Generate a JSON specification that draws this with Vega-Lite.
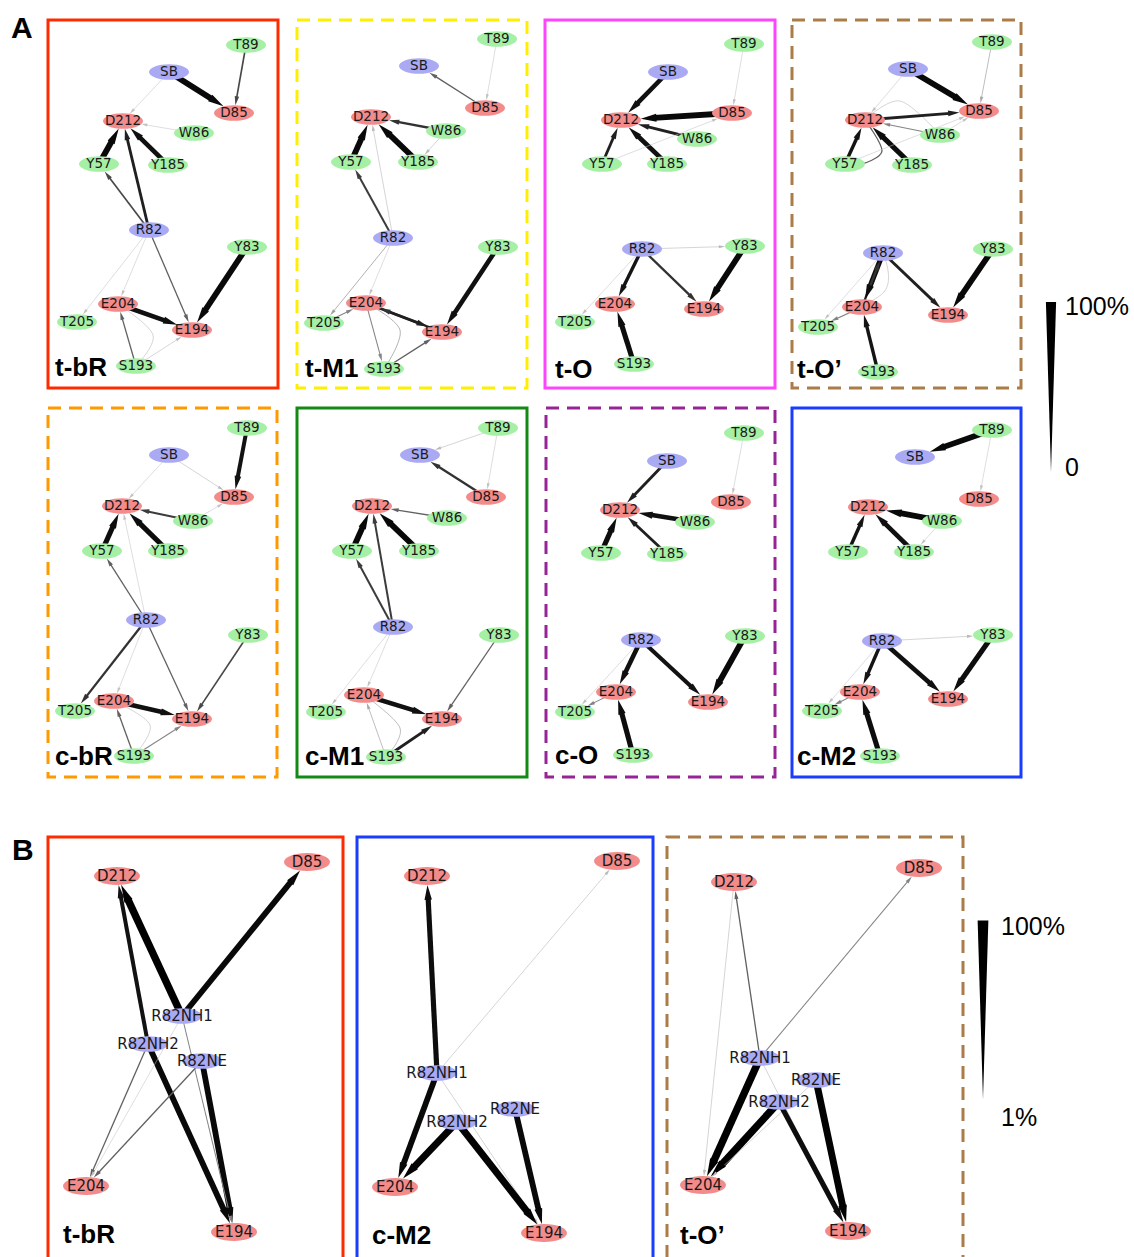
{
  "$schema": "https://vega.github.io/schema/vega-lite/v6.json",
  "width": 1134,
  "height": 1257,
  "autosize": {"type": "fit", "contains": "padding"},
  "padding": 0,
  "background": "white",
  "config": {"view": {"stroke": null}},
  "datasets": {
    "panels": [
      {"key": "A1", "label": "t-bR", "x": 48, "y": 20, "x2": 278, "y2": 388, "lx": 55, "ly": 376},
      {"key": "A2", "label": "t-M1", "x": 297, "y": 20, "x2": 527, "y2": 388, "lx": 305, "ly": 377},
      {"key": "A3", "label": "t-O", "x": 545, "y": 20, "x2": 775, "y2": 388, "lx": 555, "ly": 378},
      {"key": "A4", "label": "t-O’", "x": 792, "y": 20, "x2": 1021, "y2": 388, "lx": 797, "ly": 378},
      {"key": "A5", "label": "c-bR", "x": 48, "y": 408, "x2": 277, "y2": 777, "lx": 55, "ly": 765},
      {"key": "A6", "label": "c-M1", "x": 297, "y": 408, "x2": 527, "y2": 777, "lx": 305, "ly": 765},
      {"key": "A7", "label": "c-O", "x": 546, "y": 408, "x2": 775, "y2": 777, "lx": 555, "ly": 764},
      {"key": "A8", "label": "c-M2", "x": 792, "y": 408, "x2": 1021, "y2": 777, "lx": 797, "ly": 765},
      {"key": "B1", "label": "t-bR", "x": 48, "y": 837, "x2": 343, "y2": 1266, "lx": 63, "ly": 1243},
      {"key": "B2", "label": "c-M2", "x": 357, "y": 837, "x2": 653, "y2": 1266, "lx": 372, "ly": 1244},
      {"key": "B3", "label": "t-O’", "x": 667, "y": 837, "x2": 963, "y2": 1266, "lx": 680, "ly": 1244}
    ],
    "residues": [
      {"n": "SB", "kind": "base"}, {"n": "R82", "kind": "base"},
      {"n": "R82NH1", "kind": "base"}, {"n": "R82NH2", "kind": "base"}, {"n": "R82NE", "kind": "base"},
      {"n": "D85", "kind": "acid"}, {"n": "D212", "kind": "acid"}, {"n": "E204", "kind": "acid"}, {"n": "E194", "kind": "acid"},
      {"n": "T89", "kind": "polar"}, {"n": "W86", "kind": "polar"}, {"n": "Y57", "kind": "polar"}, {"n": "Y185", "kind": "polar"},
      {"n": "Y83", "kind": "polar"}, {"n": "T205", "kind": "polar"}, {"n": "S193", "kind": "polar"}
    ],
    "nodes": [
      {"id": "A1:T89", "x": 246, "y": 45}, {"id": "A1:SB", "x": 169, "y": 72}, {"id": "A1:D85", "x": 234, "y": 113},
      {"id": "A1:D212", "x": 123, "y": 121}, {"id": "A1:W86", "x": 194, "y": 133}, {"id": "A1:Y57", "x": 99, "y": 164},
      {"id": "A1:Y185", "x": 168, "y": 165}, {"id": "A1:R82", "x": 149, "y": 230}, {"id": "A1:Y83", "x": 247, "y": 247},
      {"id": "A1:E204", "x": 118, "y": 304}, {"id": "A1:T205", "x": 77, "y": 322}, {"id": "A1:E194", "x": 192, "y": 330},
      {"id": "A1:S193", "x": 136, "y": 366},

      {"id": "A2:T89", "x": 497, "y": 39}, {"id": "A2:SB", "x": 419, "y": 66}, {"id": "A2:D85", "x": 485, "y": 108},
      {"id": "A2:D212", "x": 371, "y": 117}, {"id": "A2:W86", "x": 446, "y": 131}, {"id": "A2:Y57", "x": 351, "y": 162},
      {"id": "A2:Y185", "x": 418, "y": 162}, {"id": "A2:R82", "x": 393, "y": 238}, {"id": "A2:Y83", "x": 498, "y": 247},
      {"id": "A2:E204", "x": 366, "y": 303}, {"id": "A2:T205", "x": 324, "y": 323}, {"id": "A2:E194", "x": 442, "y": 332},
      {"id": "A2:S193", "x": 384, "y": 369},

      {"id": "A3:T89", "x": 744, "y": 44}, {"id": "A3:SB", "x": 668, "y": 72}, {"id": "A3:D85", "x": 732, "y": 113},
      {"id": "A3:D212", "x": 621, "y": 120}, {"id": "A3:W86", "x": 697, "y": 139}, {"id": "A3:Y57", "x": 602, "y": 164},
      {"id": "A3:Y185", "x": 667, "y": 164}, {"id": "A3:R82", "x": 642, "y": 249}, {"id": "A3:Y83", "x": 745, "y": 246},
      {"id": "A3:E204", "x": 615, "y": 304}, {"id": "A3:T205", "x": 575, "y": 322}, {"id": "A3:E194", "x": 704, "y": 309},
      {"id": "A3:S193", "x": 634, "y": 364},

      {"id": "A4:T89", "x": 992, "y": 42}, {"id": "A4:SB", "x": 908, "y": 69}, {"id": "A4:D85", "x": 979, "y": 111},
      {"id": "A4:D212", "x": 865, "y": 120}, {"id": "A4:W86", "x": 940, "y": 135}, {"id": "A4:Y57", "x": 845, "y": 164},
      {"id": "A4:Y185", "x": 912, "y": 165}, {"id": "A4:R82", "x": 883, "y": 253}, {"id": "A4:Y83", "x": 993, "y": 249},
      {"id": "A4:E204", "x": 862, "y": 307}, {"id": "A4:T205", "x": 818, "y": 327}, {"id": "A4:E194", "x": 948, "y": 315},
      {"id": "A4:S193", "x": 878, "y": 372},

      {"id": "A5:T89", "x": 247, "y": 428}, {"id": "A5:SB", "x": 169, "y": 455}, {"id": "A5:D85", "x": 234, "y": 497},
      {"id": "A5:D212", "x": 122, "y": 506}, {"id": "A5:W86", "x": 193, "y": 521}, {"id": "A5:Y57", "x": 102, "y": 551},
      {"id": "A5:Y185", "x": 168, "y": 551}, {"id": "A5:R82", "x": 146, "y": 620}, {"id": "A5:Y83", "x": 248, "y": 635},
      {"id": "A5:E204", "x": 114, "y": 701}, {"id": "A5:T205", "x": 75, "y": 711}, {"id": "A5:E194", "x": 192, "y": 719},
      {"id": "A5:S193", "x": 134, "y": 756},

      {"id": "A6:T89", "x": 498, "y": 428}, {"id": "A6:SB", "x": 420, "y": 455}, {"id": "A6:D85", "x": 486, "y": 497},
      {"id": "A6:D212", "x": 372, "y": 506}, {"id": "A6:W86", "x": 447, "y": 518}, {"id": "A6:Y57", "x": 352, "y": 551},
      {"id": "A6:Y185", "x": 419, "y": 551}, {"id": "A6:R82", "x": 393, "y": 627}, {"id": "A6:Y83", "x": 499, "y": 635},
      {"id": "A6:E204", "x": 364, "y": 695}, {"id": "A6:T205", "x": 326, "y": 712}, {"id": "A6:E194", "x": 442, "y": 719},
      {"id": "A6:S193", "x": 386, "y": 757},

      {"id": "A7:T89", "x": 744, "y": 433}, {"id": "A7:SB", "x": 667, "y": 461}, {"id": "A7:D85", "x": 731, "y": 502},
      {"id": "A7:D212", "x": 620, "y": 510}, {"id": "A7:W86", "x": 695, "y": 522}, {"id": "A7:Y57", "x": 601, "y": 553},
      {"id": "A7:Y185", "x": 667, "y": 554}, {"id": "A7:R82", "x": 641, "y": 640}, {"id": "A7:Y83", "x": 745, "y": 636},
      {"id": "A7:E204", "x": 616, "y": 692}, {"id": "A7:T205", "x": 575, "y": 712}, {"id": "A7:E194", "x": 708, "y": 702},
      {"id": "A7:S193", "x": 633, "y": 755},

      {"id": "A8:T89", "x": 992, "y": 430}, {"id": "A8:SB", "x": 915, "y": 457}, {"id": "A8:D85", "x": 979, "y": 499},
      {"id": "A8:D212", "x": 868, "y": 507}, {"id": "A8:W86", "x": 942, "y": 521}, {"id": "A8:Y57", "x": 848, "y": 552},
      {"id": "A8:Y185", "x": 914, "y": 552}, {"id": "A8:R82", "x": 882, "y": 641}, {"id": "A8:Y83", "x": 993, "y": 635},
      {"id": "A8:E204", "x": 860, "y": 692}, {"id": "A8:T205", "x": 822, "y": 711}, {"id": "A8:E194", "x": 948, "y": 699},
      {"id": "A8:S193", "x": 880, "y": 756},

      {"id": "B1:D212", "x": 117, "y": 876}, {"id": "B1:D85", "x": 307, "y": 862}, {"id": "B1:R82NH1", "x": 182, "y": 1016},
      {"id": "B1:R82NH2", "x": 148, "y": 1044}, {"id": "B1:R82NE", "x": 202, "y": 1061}, {"id": "B1:E204", "x": 86, "y": 1186},
      {"id": "B1:E194", "x": 234, "y": 1232},

      {"id": "B2:D212", "x": 427, "y": 876}, {"id": "B2:D85", "x": 617, "y": 861}, {"id": "B2:R82NH1", "x": 437, "y": 1073},
      {"id": "B2:R82NH2", "x": 457, "y": 1122}, {"id": "B2:R82NE", "x": 515, "y": 1109}, {"id": "B2:E204", "x": 395, "y": 1187},
      {"id": "B2:E194", "x": 544, "y": 1233},

      {"id": "B3:D212", "x": 734, "y": 882}, {"id": "B3:D85", "x": 919, "y": 868}, {"id": "B3:R82NH1", "x": 760, "y": 1058},
      {"id": "B3:R82NE", "x": 816, "y": 1080}, {"id": "B3:R82NH2", "x": 779, "y": 1102}, {"id": "B3:E204", "x": 703, "y": 1185},
      {"id": "B3:E194", "x": 848, "y": 1231}
    ],
    "edges": [
      {"p": "A1", "s": "T89", "t": "D85", "w": 18}, {"p": "A1", "s": "SB", "t": "D85", "w": 77},
      {"p": "A1", "s": "SB", "t": "D212", "w": 2}, {"p": "A1", "s": "W86", "t": "D212", "w": 2},
      {"p": "A1", "s": "Y185", "t": "D212", "w": 60}, {"p": "A1", "s": "Y57", "t": "D212", "w": 77},
      {"p": "A1", "s": "R82", "t": "D212", "w": 35}, {"p": "A1", "s": "R82", "t": "Y57", "w": 18},
      {"p": "A1", "s": "R82", "t": "E194", "w": 13}, {"p": "A1", "s": "R82", "t": "E204", "w": 2},
      {"p": "A1", "s": "R82", "t": "T205", "w": 2}, {"p": "A1", "s": "Y83", "t": "E194", "w": 77},
      {"p": "A1", "s": "E204", "t": "E194", "w": 60}, {"p": "A1", "s": "S193", "t": "E204", "w": 13},
      {"p": "A1", "s": "S193", "t": "E194", "w": 3},

      {"p": "A2", "s": "T89", "t": "D85", "w": 2}, {"p": "A2", "s": "D85", "t": "SB", "w": 13},
      {"p": "A2", "s": "W86", "t": "D212", "w": 27}, {"p": "A2", "s": "W86", "t": "Y185", "w": 3},
      {"p": "A2", "s": "Y185", "t": "D212", "w": 77}, {"p": "A2", "s": "Y57", "t": "D212", "w": 77},
      {"p": "A2", "s": "R82", "t": "D212", "w": 3}, {"p": "A2", "s": "R82", "t": "Y57", "w": 23},
      {"p": "A2", "s": "R82", "t": "T205", "w": 6}, {"p": "A2", "s": "R82", "t": "E204", "w": 2},
      {"p": "A2", "s": "Y83", "t": "E194", "w": 60}, {"p": "A2", "s": "E194", "t": "E204", "w": 27},
      {"p": "A2", "s": "E204", "t": "E194", "w": 35}, {"p": "A2", "s": "T205", "t": "E204", "w": 9},
      {"p": "A2", "s": "E204", "t": "S193", "w": 9}, {"p": "A2", "s": "S193", "t": "E194", "w": 13},

      {"p": "A3", "s": "T89", "t": "D85", "w": 2}, {"p": "A3", "s": "SB", "t": "D212", "w": 60},
      {"p": "A3", "s": "D85", "t": "D212", "w": 77}, {"p": "A3", "s": "W86", "t": "D212", "w": 35},
      {"p": "A3", "s": "Y185", "t": "D212", "w": 60}, {"p": "A3", "s": "Y57", "t": "D212", "w": 35},
      {"p": "A3", "s": "Y57", "t": "D85", "w": 2}, {"p": "A3", "s": "R82", "t": "Y83", "w": 3},
      {"p": "A3", "s": "R82", "t": "E204", "w": 43}, {"p": "A3", "s": "R82", "t": "E194", "w": 27},
      {"p": "A3", "s": "R82", "t": "T205", "w": 2}, {"p": "A3", "s": "Y83", "t": "E194", "w": 77},
      {"p": "A3", "s": "S193", "t": "E204", "w": 68},

      {"p": "A4", "s": "T89", "t": "D85", "w": 5}, {"p": "A4", "s": "SB", "t": "D85", "w": 77},
      {"p": "A4", "s": "SB", "t": "D212", "w": 2}, {"p": "A4", "s": "D212", "t": "D85", "w": 35},
      {"p": "A4", "s": "W86", "t": "D212", "w": 9}, {"p": "A4", "s": "Y185", "t": "D212", "w": 68},
      {"p": "A4", "s": "Y57", "t": "D212", "w": 43}, {"p": "A4", "s": "Y57", "t": "D85", "w": 2},
      {"p": "A4", "s": "W86", "t": "D85", "w": 2}, {"p": "A4", "s": "R82", "t": "E204", "w": 68},
      {"p": "A4", "s": "E204", "t": "R82", "w": 27}, {"p": "A4", "s": "R82", "t": "T205", "w": 2},
      {"p": "A4", "s": "E204", "t": "T205", "w": 9}, {"p": "A4", "s": "R82", "t": "E194", "w": 35},
      {"p": "A4", "s": "Y83", "t": "E194", "w": 77}, {"p": "A4", "s": "S193", "t": "E204", "w": 43},

      {"p": "A5", "s": "T89", "t": "D85", "w": 52}, {"p": "A5", "s": "SB", "t": "D85", "w": 3},
      {"p": "A5", "s": "SB", "t": "D212", "w": 2}, {"p": "A5", "s": "W86", "t": "D212", "w": 23},
      {"p": "A5", "s": "W86", "t": "D85", "w": 2}, {"p": "A5", "s": "Y185", "t": "D212", "w": 68},
      {"p": "A5", "s": "Y57", "t": "D212", "w": 68}, {"p": "A5", "s": "R82", "t": "D212", "w": 2},
      {"p": "A5", "s": "R82", "t": "Y57", "w": 13}, {"p": "A5", "s": "R82", "t": "T205", "w": 27},
      {"p": "A5", "s": "R82", "t": "E204", "w": 2}, {"p": "A5", "s": "R82", "t": "E194", "w": 13},
      {"p": "A5", "s": "Y83", "t": "E194", "w": 18}, {"p": "A5", "s": "E204", "t": "E194", "w": 60},
      {"p": "A5", "s": "S193", "t": "E204", "w": 13}, {"p": "A5", "s": "S193", "t": "E194", "w": 9},

      {"p": "A6", "s": "T89", "t": "SB", "w": 3}, {"p": "A6", "s": "T89", "t": "D85", "w": 2},
      {"p": "A6", "s": "D85", "t": "SB", "w": 27}, {"p": "A6", "s": "W86", "t": "D212", "w": 13},
      {"p": "A6", "s": "Y185", "t": "D212", "w": 77}, {"p": "A6", "s": "Y57", "t": "D212", "w": 77},
      {"p": "A6", "s": "R82", "t": "D212", "w": 23}, {"p": "A6", "s": "R82", "t": "Y57", "w": 23},
      {"p": "A6", "s": "R82", "t": "T205", "w": 2}, {"p": "A6", "s": "R82", "t": "E204", "w": 2},
      {"p": "A6", "s": "Y83", "t": "E194", "w": 13}, {"p": "A6", "s": "E204", "t": "E194", "w": 60},
      {"p": "A6", "s": "S193", "t": "E194", "w": 35}, {"p": "A6", "s": "S193", "t": "E204", "w": 5},

      {"p": "A7", "s": "T89", "t": "D85", "w": 2}, {"p": "A7", "s": "SB", "t": "D212", "w": 35},
      {"p": "A7", "s": "W86", "t": "D212", "w": 60}, {"p": "A7", "s": "Y185", "t": "D212", "w": 35},
      {"p": "A7", "s": "Y57", "t": "D212", "w": 68}, {"p": "A7", "s": "R82", "t": "E204", "w": 60},
      {"p": "A7", "s": "R82", "t": "E194", "w": 52}, {"p": "A7", "s": "R82", "t": "T205", "w": 2},
      {"p": "A7", "s": "E204", "t": "T205", "w": 9}, {"p": "A7", "s": "Y83", "t": "E194", "w": 77},
      {"p": "A7", "s": "S193", "t": "E204", "w": 68},

      {"p": "A8", "s": "T89", "t": "SB", "w": 77}, {"p": "A8", "s": "T89", "t": "D85", "w": 2},
      {"p": "A8", "s": "W86", "t": "D212", "w": 77}, {"p": "A8", "s": "W86", "t": "Y185", "w": 2},
      {"p": "A8", "s": "Y185", "t": "D212", "w": 60}, {"p": "A8", "s": "Y57", "t": "D212", "w": 43},
      {"p": "A8", "s": "R82", "t": "Y83", "w": 3}, {"p": "A8", "s": "R82", "t": "E204", "w": 43},
      {"p": "A8", "s": "R82", "t": "E194", "w": 60}, {"p": "A8", "s": "R82", "t": "T205", "w": 2},
      {"p": "A8", "s": "E204", "t": "T205", "w": 9}, {"p": "A8", "s": "Y83", "t": "E194", "w": 68},
      {"p": "A8", "s": "S193", "t": "E204", "w": 68},

      {"p": "B1", "s": "R82NH1", "t": "D212", "w": 100}, {"p": "B1", "s": "R82NH1", "t": "D85", "w": 77},
      {"p": "B1", "s": "R82NH2", "t": "D212", "w": 52}, {"p": "B1", "s": "R82NH2", "t": "E194", "w": 77},
      {"p": "B1", "s": "R82NE", "t": "E194", "w": 77}, {"p": "B1", "s": "R82NH1", "t": "E194", "w": 9},
      {"p": "B1", "s": "R82NH2", "t": "E204", "w": 13}, {"p": "B1", "s": "R82NH1", "t": "E204", "w": 2},
      {"p": "B1", "s": "R82NE", "t": "E204", "w": 13},

      {"p": "B2", "s": "R82NH1", "t": "D212", "w": 68}, {"p": "B2", "s": "R82NH1", "t": "D85", "w": 3},
      {"p": "B2", "s": "R82NH1", "t": "E204", "w": 77}, {"p": "B2", "s": "R82NH1", "t": "E194", "w": 3},
      {"p": "B2", "s": "R82NH2", "t": "E204", "w": 93}, {"p": "B2", "s": "R82NH2", "t": "E194", "w": 93},
      {"p": "B2", "s": "R82NE", "t": "E194", "w": 77},

      {"p": "B3", "s": "R82NH1", "t": "D212", "w": 13}, {"p": "B3", "s": "R82NH1", "t": "D85", "w": 9},
      {"p": "B3", "s": "D212", "t": "E204", "w": 3}, {"p": "B3", "s": "R82NH1", "t": "E204", "w": 100},
      {"p": "B3", "s": "R82NH2", "t": "E204", "w": 100}, {"p": "B3", "s": "R82NE", "t": "E204", "w": 3},
      {"p": "B3", "s": "R82NH1", "t": "E194", "w": 3}, {"p": "B3", "s": "R82NH2", "t": "E194", "w": 68},
      {"p": "B3", "s": "R82NE", "t": "E194", "w": 93}
    ],
    "curves": [
      {"c": "A1-E204-S193", "o": 0, "x": 118, "y": 304, "w": 3}, {"c": "A1-E204-S193", "o": 1, "x": 153, "y": 335, "w": 3},
      {"c": "A1-E204-S193", "o": 2, "x": 136, "y": 366, "w": 3},
      {"c": "A2-S193-E204", "o": 0, "x": 384, "y": 369, "w": 6}, {"c": "A2-S193-E204", "o": 1, "x": 400, "y": 330, "w": 6},
      {"c": "A2-S193-E204", "o": 2, "x": 366, "y": 303, "w": 6},
      {"c": "A4-D212-Y57", "o": 0, "x": 865, "y": 120, "w": 13}, {"c": "A4-D212-Y57", "o": 1, "x": 882, "y": 151, "w": 13},
      {"c": "A4-D212-Y57", "o": 2, "x": 862, "y": 164, "w": 13},
      {"c": "A4-D212-W86", "o": 0, "x": 865, "y": 120, "w": 3}, {"c": "A4-D212-W86", "o": 1, "x": 900, "y": 101, "w": 3},
      {"c": "A4-D212-W86", "o": 2, "x": 940, "y": 135, "w": 3},
      {"c": "A4-R82-T205", "o": 0, "x": 883, "y": 253, "w": 3}, {"c": "A4-R82-T205", "o": 1, "x": 884, "y": 292, "w": 3},
      {"c": "A4-R82-T205", "o": 2, "x": 818, "y": 327, "w": 3},
      {"c": "A5-E204-S193", "o": 0, "x": 114, "y": 701, "w": 3}, {"c": "A5-E204-S193", "o": 1, "x": 150, "y": 725, "w": 3},
      {"c": "A5-E204-S193", "o": 2, "x": 134, "y": 756, "w": 3},
      {"c": "A6-E204-S193", "o": 0, "x": 364, "y": 695, "w": 5}, {"c": "A6-E204-S193", "o": 1, "x": 400, "y": 728, "w": 5},
      {"c": "A6-E204-S193", "o": 2, "x": 386, "y": 757, "w": 5}
    ],
    "letters": [
      {"t": "A", "x": 11, "y": 38},
      {"t": "B", "x": 12, "y": 860}
    ],
    "wedges": [
      {"fig": "A", "x": 1051, "y": 387},
      {"fig": "B", "x": 983, "y": 1010}
    ],
    "scaleLabels": [
      {"t": "100%", "x": 1065, "y": 307},
      {"t": "0", "x": 1065, "y": 468},
      {"t": "100%", "x": 1001, "y": 927},
      {"t": "1%", "x": 1001, "y": 1118}
    ]
  },
  "layer": [
    {
      "data": {"name": "panels"},
      "transform": [{"filter": "indexof(['t-M1', 't-O’', 'c-bR', 'c-O'], datum.label) < 0"}],
      "mark": {"type": "rect", "filled": false, "strokeWidth": 3, "clip": true},
      "encoding": {
        "x": {"field": "x", "type": "quantitative", "scale": {"domain": [0, 1134], "nice": false, "zero": false}, "axis": null},
        "x2": {"field": "x2"},
        "y": {"field": "y", "type": "quantitative", "scale": {"domain": [0, 1257], "nice": false, "zero": false, "reverse": true}, "axis": null},
        "y2": {"field": "y2"},
        "stroke": {
          "field": "label", "type": "nominal", "legend": null,
          "scale": {
            "domain": ["t-bR", "t-M1", "t-O", "t-O’", "c-bR", "c-M1", "c-O", "c-M2"],
            "range": ["#ff2a00", "#ffee00", "#ff44ff", "#ab7c48", "#ff9900", "#138a13", "#962496", "#1a3cff"]
          }
        }
      }
    },
    {
      "data": {"name": "panels"},
      "transform": [{"filter": "indexof(['t-M1', 't-O’', 'c-bR', 'c-O'], datum.label) >= 0"}],
      "mark": {"type": "rect", "filled": false, "strokeWidth": 3, "strokeDash": [13, 8], "clip": true},
      "encoding": {
        "x": {"field": "x", "type": "quantitative", "scale": {"domain": [0, 1134], "nice": false, "zero": false}, "axis": null},
        "x2": {"field": "x2"},
        "y": {"field": "y", "type": "quantitative", "scale": {"domain": [0, 1257], "nice": false, "zero": false, "reverse": true}, "axis": null},
        "y2": {"field": "y2"},
        "stroke": {
          "field": "label", "type": "nominal", "legend": null,
          "scale": {
            "domain": ["t-bR", "t-M1", "t-O", "t-O’", "c-bR", "c-M1", "c-O", "c-M2"],
            "range": ["#ff2a00", "#ffee00", "#ff44ff", "#ab7c48", "#ff9900", "#138a13", "#962496", "#1a3cff"]
          }
        }
      }
    },
    {
      "data": {"name": "curves"},
      "mark": {"type": "line", "interpolate": "cardinal"},
      "encoding": {
        "x": {"field": "x", "type": "quantitative", "scale": {"domain": [0, 1134], "nice": false, "zero": false}, "axis": null},
        "y": {"field": "y", "type": "quantitative", "scale": {"domain": [0, 1257], "nice": false, "zero": false, "reverse": true}, "axis": null},
        "detail": {"field": "c", "type": "nominal"},
        "order": {"field": "o", "type": "quantitative"},
        "stroke": {"field": "w", "type": "quantitative", "legend": null,
          "scale": {"type": "linear", "domain": [0, 6, 15, 40, 100], "range": ["#d4d4d4", "#a0a0a0", "#505050", "#151515", "#000000"]}},
        "strokeWidth": {"field": "w", "type": "quantitative", "legend": null, "scale": {"domain": [0, 100], "range": [0.4, 7.4]}}
      }
    },
    {
      "data": {"name": "edges"},
      "transform": [
        {"calculate": "datum.p + ':' + datum.s", "as": "ks"},
        {"calculate": "datum.p + ':' + datum.t", "as": "kt"},
        {"calculate": "substring(datum.p, 0, 1)", "as": "fig"},
        {"lookup": "ks", "from": {"data": {"name": "nodes"}, "key": "id", "fields": ["x", "y"]}, "as": ["x1", "y1"]},
        {"lookup": "kt", "from": {"data": {"name": "nodes"}, "key": "id", "fields": ["x", "y"]}, "as": ["xt", "yt"]},
        {"calculate": "datum.xt - datum.x1", "as": "dx"},
        {"calculate": "datum.yt - datum.y1", "as": "dy"},
        {"calculate": "datum.fig == 'B' ? 23 : 20", "as": "rx"},
        {"calculate": "datum.rx * 0.39", "as": "ry"},
        {"calculate": "1 / sqrt(pow(datum.dx / datum.rx, 2) + pow(datum.dy / datum.ry, 2))", "as": "k"},
        {"calculate": "datum.xt - datum.dx * datum.k", "as": "tx"},
        {"calculate": "datum.yt - datum.dy * datum.k", "as": "ty"},
        {"calculate": "sqrt(datum.dx * datum.dx + datum.dy * datum.dy)", "as": "len"},
        {"calculate": "sqrt(30 + 2.8 * datum.w) * 0.85", "as": "hl"},
        {"calculate": "datum.tx - datum.dx / datum.len * datum.hl", "as": "ex"},
        {"calculate": "datum.ty - datum.dy / datum.len * datum.hl", "as": "ey"},
        {"calculate": "atan2(datum.dx, -datum.dy) * 180 / PI", "as": "ang"}
      ],
      "layer": [
        {
          "mark": {"type": "rule", "strokeCap": "butt"},
          "encoding": {
            "x": {"field": "x1", "type": "quantitative", "scale": {"domain": [0, 1134], "nice": false, "zero": false}, "axis": null},
            "y": {"field": "y1", "type": "quantitative", "scale": {"domain": [0, 1257], "nice": false, "zero": false, "reverse": true}, "axis": null},
            "x2": {"field": "ex"},
            "y2": {"field": "ey"},
            "stroke": {"field": "w", "type": "quantitative", "legend": null,
              "scale": {"type": "linear", "domain": [0, 6, 15, 40, 100], "range": ["#d4d4d4", "#a0a0a0", "#505050", "#151515", "#000000"]}},
            "strokeWidth": {"field": "w", "type": "quantitative", "legend": null, "scale": {"domain": [0, 100], "range": [0.4, 7.4]}}
          }
        },
        {
          "mark": {"type": "point", "filled": true, "opacity": 1, "strokeWidth": 0, "shape": "M0,0L-0.5,2L0.5,2Z"},
          "encoding": {
            "x": {"field": "tx", "type": "quantitative", "scale": {"domain": [0, 1134], "nice": false, "zero": false}, "axis": null},
            "y": {"field": "ty", "type": "quantitative", "scale": {"domain": [0, 1257], "nice": false, "zero": false, "reverse": true}, "axis": null},
            "angle": {"field": "ang", "type": "quantitative", "scale": null},
            "size": {"field": "w", "type": "quantitative", "legend": null, "scale": {"domain": [0, 100], "range": [30, 310]}},
            "fill": {"field": "w", "type": "quantitative", "legend": null,
              "scale": {"type": "linear", "domain": [0, 6, 15, 40, 100], "range": ["#d4d4d4", "#a0a0a0", "#505050", "#151515", "#000000"]}}
          }
        }
      ]
    },
    {
      "data": {"name": "nodes"},
      "transform": [
        {"calculate": "split(datum.id, ':')[1]", "as": "n"},
        {"calculate": "substring(datum.id, 0, 1)", "as": "fig"},
        {"lookup": "n", "from": {"data": {"name": "residues"}, "key": "n", "fields": ["kind"]}}
      ],
      "layer": [
        {
          "mark": {"type": "point", "filled": true, "opacity": 1, "strokeWidth": 0, "shape": "M-1,0A1,0.39,0,1,0,1,0A1,0.39,0,1,0,-1,0Z"},
          "encoding": {
            "x": {"field": "x", "type": "quantitative", "scale": {"domain": [0, 1134], "nice": false, "zero": false}, "axis": null},
            "y": {"field": "y", "type": "quantitative", "scale": {"domain": [0, 1257], "nice": false, "zero": false, "reverse": true}, "axis": null},
            "fill": {"field": "kind", "type": "nominal", "legend": null,
              "scale": {"domain": ["acid", "base", "polar"], "range": ["#f38b8b", "#aaaaf4", "#a6f0a6"]}},
            "size": {"condition": {"test": "datum.fig == 'B' && datum.kind == 'acid'", "value": 2116}, "value": 1600}
          }
        },
        {
          "mark": {"type": "text", "font": "DejaVu Sans", "align": "center", "baseline": "middle", "color": "#1a1a1a"},
          "encoding": {
            "x": {"field": "x", "type": "quantitative", "scale": {"domain": [0, 1134], "nice": false, "zero": false}, "axis": null},
            "y": {"field": "y", "type": "quantitative", "scale": {"domain": [0, 1257], "nice": false, "zero": false, "reverse": true}, "axis": null},
            "text": {"field": "n", "type": "nominal"},
            "size": {"condition": {"test": "datum.fig == 'B'", "value": 15}, "value": 13.5}
          }
        }
      ]
    },
    {
      "data": {"name": "panels"},
      "mark": {"type": "text", "font": "Liberation Sans", "fontWeight": "bold", "fontSize": 26, "align": "left", "baseline": "alphabetic", "color": "#000000"},
      "encoding": {
        "x": {"field": "lx", "type": "quantitative", "scale": {"domain": [0, 1134], "nice": false, "zero": false}, "axis": null},
        "y": {"field": "ly", "type": "quantitative", "scale": {"domain": [0, 1257], "nice": false, "zero": false, "reverse": true}, "axis": null},
        "text": {"field": "label", "type": "nominal"}
      }
    },
    {
      "data": {"name": "letters"},
      "mark": {"type": "text", "font": "Liberation Sans", "fontWeight": "bold", "fontSize": 30, "align": "left", "baseline": "alphabetic", "color": "#000000"},
      "encoding": {
        "x": {"field": "x", "type": "quantitative", "scale": {"domain": [0, 1134], "nice": false, "zero": false}, "axis": null},
        "y": {"field": "y", "type": "quantitative", "scale": {"domain": [0, 1257], "nice": false, "zero": false, "reverse": true}, "axis": null},
        "text": {"field": "t", "type": "nominal"}
      }
    },
    {
      "data": {"name": "wedges"},
      "mark": {"type": "point", "filled": true, "opacity": 1, "strokeWidth": 0, "color": "#000000", "shape": "M-0.06,-1L0.06,-1L0,1Z"},
      "encoding": {
        "x": {"field": "x", "type": "quantitative", "scale": {"domain": [0, 1134], "nice": false, "zero": false}, "axis": null},
        "y": {"field": "y", "type": "quantitative", "scale": {"domain": [0, 1257], "nice": false, "zero": false, "reverse": true}, "axis": null},
        "size": {"field": "fig", "type": "ordinal", "legend": null, "scale": {"domain": ["A", "B"], "range": [28900, 32041]}}
      }
    },
    {
      "data": {"name": "scaleLabels"},
      "mark": {"type": "text", "font": "Liberation Sans", "fontSize": 25, "align": "left", "baseline": "middle", "color": "#000000"},
      "encoding": {
        "x": {"field": "x", "type": "quantitative", "scale": {"domain": [0, 1134], "nice": false, "zero": false}, "axis": null},
        "y": {"field": "y", "type": "quantitative", "scale": {"domain": [0, 1257], "nice": false, "zero": false, "reverse": true}, "axis": null},
        "text": {"field": "t", "type": "nominal"}
      }
    }
  ],
  "resolve": {
    "scale": {
      "stroke": "independent",
      "fill": "independent",
      "color": "independent",
      "size": "independent",
      "strokeWidth": "independent"
    }
  }
}
